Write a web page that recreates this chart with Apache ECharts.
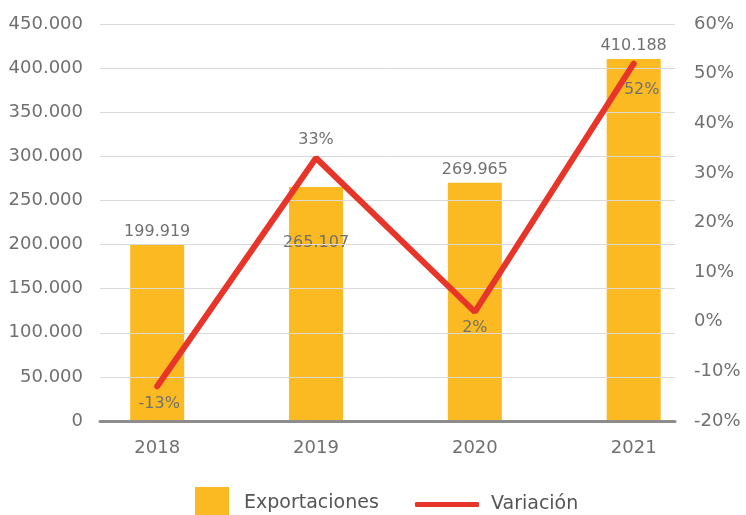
<!DOCTYPE html>
<html>
<head>
<meta charset="utf-8">
<script src="https://cdn.jsdelivr.net/npm/echarts@6/dist/echarts.min.js"></script>
<style>
  html, body { margin: 0; padding: 0; background: #fff; }
  #chart { width: 746px; height: 515px; }
</style>
</head>
<body>
<div id="chart"></div>
<script>
// data
const years = ['2018', '2019', '2020', '2021']
const exportaciones = [199919, 265107, 269965, 410188]
const variacion = [-13, 33, 2, 52]

const textColor = '#707070'
const fontFamily = 'DejaVu Sans, sans-serif'

function fmtMiles(v) {
  return String(Math.round(v)).replace(/\B(?=(\d{3})+(?!\d))/g, '.')
}

// label tweaks per point, mimicking the hand-placed labels
const barLabelOffset = [[0, 0], [0, 69], [0, 0], [0, 0]]
const lineLabelPos = [
  { position: 'bottom', distance: 10, offset: [2, 0] },
  { position: 'top', distance: 10, offset: [0, 0] },
  { position: 'bottom', distance: 8, offset: [0, 0] },
  { position: 'bottom', distance: 18, offset: [8, 0] }
]

const chart = echarts.init(document.getElementById('chart'))
const option = {
  animation: false,
  textStyle: { fontFamily: fontFamily },
  grid: { left: 100, right: 71, top: 24, bottom: 94 },
  legend: [
    {
      data: ['Exportaciones'],
      left: 195,
      top: 487,
      padding: 0,
      itemWidth: 34,
      itemHeight: 32,
      icon: 'rect',
      textStyle: { color: '#555', fontSize: 19, fontFamily: fontFamily, padding: [4, 0, 0, 10] }
    },
    {
      data: ['Variación'],
      left: 415,
      top: 495,
      padding: 0,
      itemWidth: 64,
      itemHeight: 5,
      icon: 'roundRect',
      textStyle: { color: '#555', fontSize: 19, fontFamily: fontFamily, padding: [0, 0, 0, 7] }
    }
  ],
  xAxis: {
    type: 'value',
    min: -0.36,
    max: 3.26,
    splitLine: { show: false },
    axisTick: { show: false },
    axisLine: { show: true, onZero: false, lineStyle: { color: '#8c8c8c', width: 3 } },
    axisLabel: {
      customValues: [0, 1, 2, 3],
      margin: 18,
      color: textColor,
      fontSize: 18,
      formatter: function (v) { return years[Math.round(v)] }
    }
  },
  yAxis: [
    {
      type: 'value',
      min: 0,
      max: 450000,
      interval: 50000,
      axisLine: { show: false },
      axisTick: { show: false },
      splitLine: { lineStyle: { color: '#d9d9d9', width: 1 } },
      axisLabel: { color: textColor, fontSize: 18, margin: 17, formatter: fmtMiles }
    },
    {
      type: 'value',
      min: -20,
      max: 60,
      interval: 10,
      axisLine: { show: false },
      axisTick: { show: false },
      splitLine: { show: false },
      axisLabel: { color: textColor, fontSize: 18, margin: 19, formatter: '{value}%' }
    }
  ],
  series: [
    {
      name: 'Exportaciones',
      type: 'bar',
      z: -1,
      barWidth: 54,
      itemStyle: { color: '#FBBA21' },
      label: {
        show: true,
        position: 'top',
        distance: 5,
        color: textColor,
        fontSize: 16,
        formatter: function (p) { return fmtMiles(p.value[1]) }
      },
      data: exportaciones.map(function (v, i) {
        return { value: [i, v], label: { offset: barLabelOffset[i] } }
      })
    },
    {
      name: 'Variación',
      type: 'line',
      yAxisIndex: 1,
      showSymbol: true,
      symbol: 'circle',
      symbolSize: 0.1,
      lineStyle: { color: '#E8352A', width: 6, cap: 'round' },
      itemStyle: { color: '#E8352A' },
      label: {
        show: true,
        color: textColor,
        fontSize: 16,
        formatter: function (p) { return p.value[1] + '%' }
      },
      data: variacion.map(function (v, i) {
        return { value: [i, v], label: lineLabelPos[i] }
      })
    }
  ]
}
chart.setOption(option)
</script>
</body>
</html>
